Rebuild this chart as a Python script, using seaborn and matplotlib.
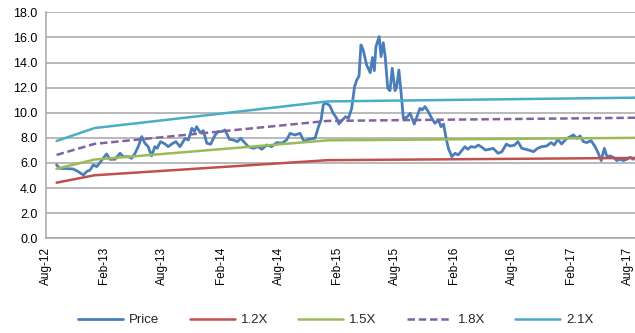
import matplotlib
matplotlib.use("Agg")
import matplotlib.pyplot as plt
import matplotlib.dates as mdates
from matplotlib.ticker import FormatStrFormatter
import seaborn as sns
import pandas as pd

# ---------------- data ----------------
price_dates = [
    "2012-09-04", "2012-09-14", "2012-10-05", "2012-10-26", "2012-11-11", "2012-11-27",
    "2012-12-07", "2012-12-18", "2012-12-28", "2013-01-08", "2013-01-18", "2013-01-28",
    "2013-02-08", "2013-02-18", "2013-03-06", "2013-03-22", "2013-04-01", "2013-04-17",
    "2013-04-27", "2013-05-08", "2013-05-18", "2013-05-29", "2013-06-08", "2013-06-18",
    "2013-06-29", "2013-07-09", "2013-07-16", "2013-07-27", "2013-08-10", "2013-08-20",
    "2013-08-31", "2013-09-13", "2013-09-26", "2013-10-12", "2013-10-22", "2013-11-02",
    "2013-11-10", "2013-11-17", "2013-11-28", "2013-12-08", "2013-12-19", "2013-12-31",
    "2014-01-14", "2014-01-24", "2014-02-04", "2014-02-14", "2014-02-28", "2014-03-12",
    "2014-03-25", "2014-04-04", "2014-04-18", "2014-04-28", "2014-05-14", "2014-05-29",
    "2014-06-09", "2014-06-25", "2014-07-10", "2014-07-26", "2014-08-11", "2014-08-26",
    "2014-09-06", "2014-09-21", "2014-10-07", "2014-10-20", "2014-11-02", "2014-11-18",
    "2014-11-23", "2014-12-04", "2014-12-12", "2014-12-19", "2014-12-27", "2015-01-09",
    "2015-01-19", "2015-01-30", "2015-02-06", "2015-02-15", "2015-02-27", "2015-03-08",
    "2015-03-18", "2015-03-27", "2015-04-03", "2015-04-10", "2015-04-16", "2015-04-23",
    "2015-05-04", "2015-05-15", "2015-05-22", "2015-05-28", "2015-06-02", "2015-06-12",
    "2015-06-18", "2015-06-25", "2015-07-01", "2015-07-09", "2015-07-16", "2015-07-23",
    "2015-08-01", "2015-08-06", "2015-08-13", "2015-08-20", "2015-08-27", "2015-09-07",
    "2015-09-17", "2015-09-30", "2015-10-08", "2015-10-18", "2015-10-25", "2015-11-03",
    "2015-11-13", "2015-11-24", "2015-12-04", "2015-12-15", "2015-12-23", "2015-12-31",
    "2016-01-08", "2016-01-15", "2016-01-26", "2016-02-05", "2016-02-15", "2016-02-26",
    "2016-03-07", "2016-03-16", "2016-03-26", "2016-04-08", "2016-04-18", "2016-04-29",
    "2016-05-10", "2016-05-24", "2016-06-03", "2016-06-19", "2016-07-01", "2016-07-15",
    "2016-07-26", "2016-08-09", "2016-08-20", "2016-09-01", "2016-09-22", "2016-10-08",
    "2016-10-21", "2016-11-03", "2016-11-18", "2016-12-02", "2016-12-12", "2016-12-23",
    "2017-01-04", "2017-01-17", "2017-01-27", "2017-02-10", "2017-02-21", "2017-03-03",
    "2017-03-13", "2017-03-24", "2017-04-06", "2017-04-19", "2017-04-29", "2017-05-08",
    "2017-05-18", "2017-05-26", "2017-06-05", "2017-06-15", "2017-06-26", "2017-07-06",
    "2017-07-17", "2017-07-27", "2017-08-07", "2017-08-17",
]
price_values = [
    5.85, 5.57, 5.55, 5.52, 5.31, 5.04,
    5.31, 5.44, 5.84, 5.71, 6.03, 6.37,
    6.72, 6.29, 6.29, 6.77, 6.50, 6.50,
    6.37, 6.77, 7.30, 8.10, 7.57, 7.30,
    6.56, 7.30, 7.17, 7.70, 7.51, 7.30,
    7.51, 7.70, 7.30, 7.96, 7.83, 8.76,
    8.50, 8.89, 8.42, 8.57, 7.57, 7.49,
    8.23, 8.50, 8.50, 8.63, 7.88, 7.83,
    7.70, 7.96, 7.57, 7.30, 7.17, 7.30,
    7.09, 7.43, 7.30, 7.62, 7.57, 7.83,
    8.36, 8.23, 8.36, 7.70, 7.88, 7.96,
    7.96, 8.89, 9.42, 10.62, 10.80, 10.54,
    9.96, 9.56, 9.10, 9.37, 9.69, 9.56,
    10.35, 12.08, 12.61, 12.93, 15.40, 15.00,
    13.80, 13.19, 14.40, 13.35, 15.26, 16.06,
    14.47, 15.58, 14.47, 11.95, 11.76, 13.54,
    11.76, 12.08, 13.40, 11.55, 9.56, 9.64,
    9.96, 9.10, 9.64, 10.35, 10.22, 10.49,
    10.09, 9.56, 9.16, 9.42, 8.89, 9.10,
    7.96, 7.17, 6.50, 6.77, 6.64, 6.98,
    7.30, 7.09, 7.30, 7.25, 7.43, 7.25,
    7.03, 7.09, 7.17, 6.77, 6.90, 7.51,
    7.35, 7.41, 7.70, 7.17, 7.03, 6.90,
    7.17, 7.30, 7.35, 7.62, 7.43, 7.88,
    7.51, 7.88, 8.04, 8.23, 7.96, 8.15,
    7.70, 7.62, 7.78, 7.30, 6.77, 6.19,
    7.17, 6.50, 6.56, 6.45, 6.19, 6.29,
    6.19, 6.29, 6.45, 6.29,
]

band_dates = ["2012-09-04", "2013-01-01", "2015-01-01", "2017-08-22"]
band_12x = [4.43, 5.02, 6.22, 6.40]
band_15x = [5.54, 6.27, 7.80, 8.00]
band_18x = [6.64, 7.52, 9.35, 9.60]
band_21x = [7.75, 8.78, 10.90, 11.20]

y_ticks = [0, 2, 4, 6, 8, 10, 12, 14, 16, 18]

# ---------------- styling ----------------
sns.set_theme(style="white")
plt.rcParams["font.family"] = ["Liberation Sans", "DejaVu Sans"]

fig = plt.figure(figsize=(6.35, 3.33), dpi=100)
ax = fig.add_axes([0.072, 0.2844, 0.928, 0.6787])

grid_col = "#a6a6a6"

series = [
    ("Price", price_dates, price_values, "#4a7ebb", 2.0, "-"),
    ("1.2X", band_dates, band_12x, "#c0504d", 1.8, "-"),
    ("1.5X", band_dates, band_15x, "#9bbb59", 1.8, "-"),
    ("1.8X", band_dates, band_18x, "#8064a2", 1.8, (0, (3.0, 1.5))),
    ("2.1X", band_dates, band_21x, "#4bacc6", 1.8, "-"),
]

for name, d, v, col, lw, ls in series:
    df = pd.DataFrame({"date": pd.to_datetime(d), "value": v})
    sns.lineplot(data=df, x="date", y="value", ax=ax, color=col, linewidth=lw,
                 linestyle=ls, label=name, estimator=None, sort=False)

ax.set_xlim(pd.Timestamp("2012-08-01"), pd.Timestamp("2017-08-22"))
ax.set_ylim(0, 18)
ax.set_yticks(y_ticks)
ax.yaxis.set_major_formatter(FormatStrFormatter("%.1f"))
ax.xaxis.set_major_locator(mdates.MonthLocator(bymonth=[2, 8]))
ax.xaxis.set_major_formatter(mdates.DateFormatter("%b-%y"))

ax.grid(axis="y", color=grid_col, linewidth=1.1)
ax.set_axisbelow(True)
for s in ["top", "right"]:
    ax.spines[s].set_visible(False)
for s in ["left", "bottom"]:
    ax.spines[s].set_color(grid_col)
    ax.spines[s].set_linewidth(1.1)

ax.tick_params(axis="x", which="major", direction="out", length=4, width=1,
               color=grid_col, labelsize=8.5, labelrotation=90, pad=2, labelcolor="black")
ax.tick_params(axis="y", which="major", direction="out", length=4, width=1,
               color=grid_col, labelsize=9, pad=2, labelcolor="black")
ax.set_xlabel("")
ax.set_ylabel("")

handles, labels = ax.get_legend_handles_labels()
ax.legend(handles, labels, loc="center", bbox_to_anchor=(0.529, 0.039),
          bbox_transform=fig.transFigure, ncol=5, frameon=False, fontsize=9.5,
          handlelength=3.4, handletextpad=0.45, columnspacing=2.3)

fig.savefig("out.png", dpi=100)
